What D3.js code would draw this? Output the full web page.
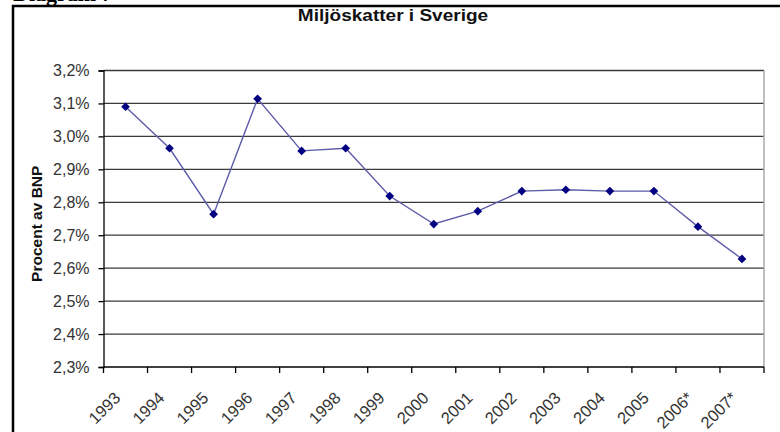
<!DOCTYPE html>
<html>
<head>
<meta charset="utf-8">
<script src="https://cdn.jsdelivr.net/npm/d3@7"></script>
<style>
  body { margin: 0; background: #fff; }
  svg { display: block; font-family: "Liberation Sans", Arial, sans-serif; }
</style>
</head>
<body>
<svg id="chart" width="780" height="432"></svg>
<script>
// data
const years = ['1993', '1994', '1995', '1996', '1997', '1998', '1999', '2000',
  '2001', '2002', '2003', '2004', '2005', '2006*', '2007*'];
const share = [3.09, 2.964, 2.764, 3.114, 2.956, 2.964, 2.819, 2.734,
  2.773, 2.834, 2.838, 2.834, 2.834, 2.726, 2.628];
const yTicks = [2.3, 2.4, 2.5, 2.6, 2.7, 2.8, 2.9, 3.0, 3.1, 3.2];

const svg = d3.select('#chart');
const plot = { left: 103.5, right: 764, top: 70.5, bottom: 367 };

// outer frame + cut off caption (it is clipped in the original too)
svg.append('text')
  .attr('x', 13).attr('y', 1)
  .style('font-family', '"Liberation Serif", "Times New Roman", serif')
  .style('font-weight', 'bold').style('font-size', '22px')
  .text('Diagram 7');
svg.append('rect')
  .attr('x', 13).attr('y', 6)
  .attr('width', 800).attr('height', 500)
  .attr('fill', 'none').attr('stroke', '#000').attr('stroke-width', 2.5);

// title
svg.append('text')
  .attr('transform', 'translate(393,21) scale(1.12,1)')
  .attr('text-anchor', 'middle')
  .style('font-weight', 'bold').style('font-size', '17px').style('fill', '#111')
  .text('Miljöskatter i Sverige');

// scales
const x = d3.scaleBand().domain(years).range([plot.left, plot.right]);
const y = d3.scaleLinear().domain([2.3, 3.2]).range([plot.bottom, plot.top]);
const fmt = v => d3.format('.1f')(v).replace('.', ',') + '%';

// gridlines
svg.append('g')
  .selectAll('line')
  .data(yTicks.slice(1))
  .join('line')
  .attr('x1', plot.left).attr('x2', plot.right)
  .attr('y1', d => y(d)).attr('y2', d => y(d))
  .attr('stroke', '#3a3a3a').attr('stroke-width', 1.3);

// right edge
svg.append('line')
  .attr('x1', plot.right).attr('x2', plot.right)
  .attr('y1', plot.top).attr('y2', plot.bottom)
  .attr('stroke', '#aaa').attr('stroke-width', 1.5);

// y axis
const yAxis = svg.append('g')
  .attr('transform', `translate(${plot.left},0)`)
  .call(d3.axisLeft(y).tickValues(yTicks).tickFormat(fmt).tickSize(5).tickPadding(9));
yAxis.select('.domain').attr('stroke', '#000').attr('stroke-width', 1.3);
yAxis.selectAll('.tick line').attr('stroke', '#000').attr('stroke-width', 1.3);
yAxis.selectAll('.tick text')
  .style('font-size', '16px').style('fill', '#333').style('font-family', '"Liberation Sans", Arial, sans-serif');

// x axis (ticks at band edges)
const xAxis = svg.append('g')
  .attr('transform', `translate(0,${plot.bottom})`);
xAxis.append('line')
  .attr('x1', plot.left).attr('x2', plot.right)
  .attr('stroke', '#000').attr('stroke-width', 1.3);
xAxis.selectAll('.xt')
  .data(years.concat(['end']))
  .join('line')
  .attr('class', 'xt')
  .attr('x1', (d, i) => i < years.length ? x(d) : plot.right)
  .attr('x2', (d, i) => i < years.length ? x(d) : plot.right)
  .attr('y1', 0).attr('y2', 6)
  .attr('stroke', '#000').attr('stroke-width', 1.3);
xAxis.selectAll('.xl')
  .data(years)
  .join('text')
  .attr('class', 'xl')
  .attr('text-anchor', 'end')
  .attr('transform', d => `translate(${x(d) + x.bandwidth() / 2 - 4},32) rotate(-45)`)
  .style('font-size', '16.5px').style('fill', '#333')
  .text(d => d);

// y axis title
svg.append('text')
  .attr('transform', `translate(42,${(plot.top + plot.bottom) / 2 + 5}) rotate(-90)`)
  .attr('text-anchor', 'middle')
  .style('font-weight', 'bold').style('font-size', '15.5px').style('fill', '#111')
  .text('Procent av BNP');

// series
const cx = d => x(d) + x.bandwidth() / 2;
svg.append('path')
  .datum(share)
  .attr('fill', 'none')
  .attr('stroke', '#5c5ca8').attr('stroke-width', 1.4)
  .attr('d', d3.line().x((d, i) => cx(years[i])).y(d => y(d)));

svg.append('g')
  .selectAll('path')
  .data(share)
  .join('path')
  .attr('d', d3.symbol().type(d3.symbolSquare).size(38))
  .attr('transform', (d, i) => `translate(${cx(years[i])},${y(d)}) rotate(45)`)
  .attr('fill', '#000080');
</script>
</body>
</html>
